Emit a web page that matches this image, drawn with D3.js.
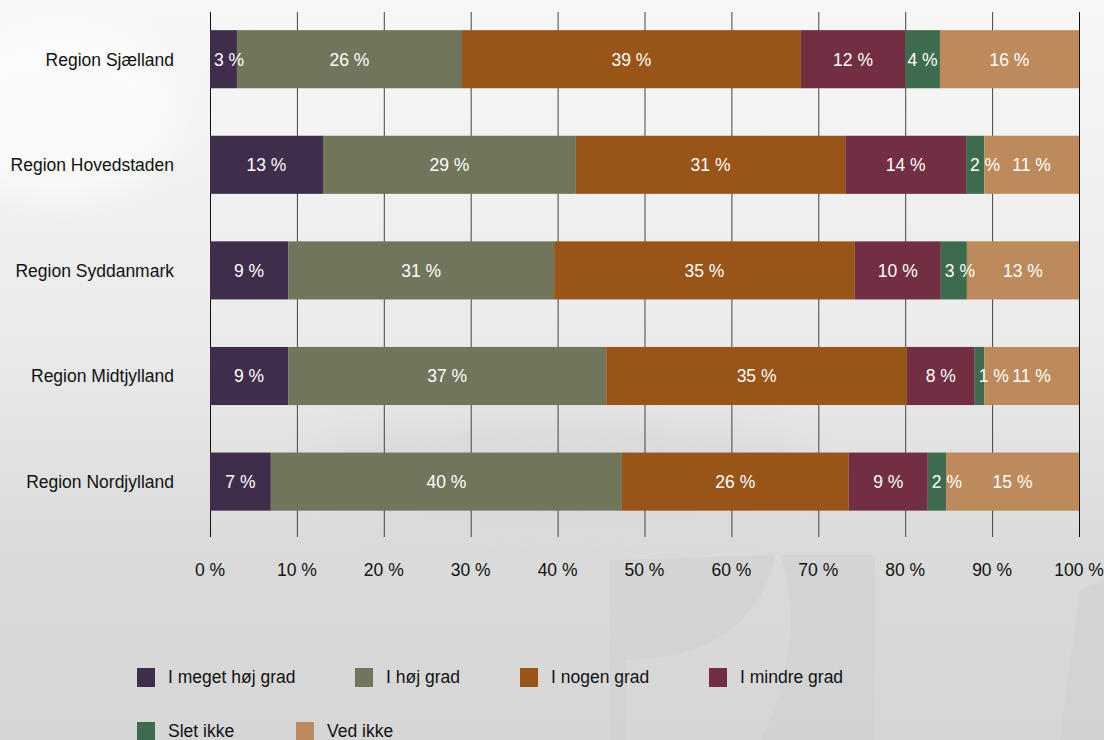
<!DOCTYPE html>
<html><head><meta charset="utf-8">
<script src="https://cdn.jsdelivr.net/npm/d3@7"></script>
<style>body{margin:0;padding:0;overflow:hidden;background:#e6e6e6}svg{display:block}</style>
</head><body>
<svg id="c" width="1104" height="740"></svg>
<script>
const regions = ["Region Sjælland","Region Hovedstaden","Region Syddanmark","Region Midtjylland","Region Nordjylland"];
const seriesNames = ["I meget høj grad","I høj grad","I nogen grad","I mindre grad","Slet ikke","Ved ikke"];
const colors = ["#3f2d4b","#70755c","#995517","#722e42","#3e6b4d","#bd8b5b"];
// values per region, in series order
const sjaelland    = [3.1, 25.9, 39.0, 12.0, 4.0, 16.0];
const hovedstaden  = [13.0, 29.1, 31.0, 13.9, 2.1, 10.9];
const syddanmark   = [9.0, 30.6, 34.6, 9.9, 3.0, 12.9];
const midtjylland  = [9.0, 36.6, 34.6, 7.8, 1.1, 10.9];
const nordjylland  = [7.0, 40.4, 26.1, 9.1, 2.1, 15.3];
const tickValues = [0,10,20,30,40,50,60,70,80,90,100];

const values = [sjaelland, hovedstaden, syddanmark, midtjylland, nordjylland];
const svg = d3.select("#c");
const font = "'Liberation Sans', Arial, sans-serif";
const fs = 17.5;

// background
const defs = svg.append("defs");
const g1 = defs.append("linearGradient").attr("id","bg").attr("x1",0).attr("y1",0).attr("x2",0).attr("y2",1);
g1.append("stop").attr("offset","0%").attr("stop-color","#f7f7f7");
g1.append("stop").attr("offset","45%").attr("stop-color","#ebebeb");
g1.append("stop").attr("offset","75%").attr("stop-color","#dadada");
g1.append("stop").attr("offset","100%").attr("stop-color","#d6d6d6");
svg.append("rect").attr("width",1104).attr("height",740).attr("fill","url(#bg)");
const blur = defs.append("filter").attr("id","bl").attr("x","-50%").attr("y","-50%").attr("width","200%").attr("height","200%");
blur.append("feGaussianBlur").attr("stdDeviation",18);
svg.append("ellipse").attr("cx",60).attr("cy",110).attr("rx",120).attr("ry",90).attr("fill","#ffffff").attr("opacity",0.6).attr("filter","url(#bl)");
svg.append("ellipse").attr("cx",560).attr("cy",470).attr("rx",260).attr("ry",50).attr("fill","#d2d2d2").attr("opacity",0.5).attr("filter","url(#bl)");
// faint large shape bottom right
svg.append("path").attr("d","M610,740 L610,560 L775,555 C760,630 700,660 625,660 L625,740 Z").attr("fill","#cfcfd1").attr("opacity",0.55);
svg.append("path").attr("d","M760,740 C790,690 800,600 780,555 L875,555 L875,740 Z").attr("fill","#cfcfd1").attr("opacity",0.55);
svg.append("path").attr("d","M1060,740 L1080,590 L1104,580 L1104,740 Z").attr("fill","#cfcfd1").attr("opacity",0.55);

const x = d3.scaleLinear().domain([0,100]).range([210,1079]);
const y = d3.scaleBand().domain(regions).range([6.4,534.4]).paddingInner(0.45).paddingOuter(0.225);

// gridlines
svg.append("g").selectAll("line").data(tickValues).join("line")
  .attr("x1",d=>x(d)+0.5).attr("x2",d=>x(d)+0.5).attr("y1",12).attr("y2",537)
  .attr("stroke",d=>(d===0||d===100)?"#111":"#444").attr("stroke-width",1);

// bars
regions.forEach((r,i)=>{
  let acc=0;
  const segs = values[i].map((v,k)=>{const s={k,v,x0:acc,x1:acc+v};acc+=v;return s;});
  const g = svg.append("g");
  g.selectAll("rect").data(segs).join("rect")
    .attr("x",d=>x(d.x0)).attr("width",d=>x(d.x1)-x(d.x0))
    .attr("y",y(r)).attr("height",y.bandwidth())
    .attr("fill",d=>colors[d.k]);
  g.selectAll("text").data(segs).join("text")
    .attr("x",d=>(x(d.x0)+x(d.x1))/2).attr("y",y(r)+y.bandwidth()/2)
    .attr("dy","0.36em").attr("text-anchor","middle")
    .attr("fill","#ffffff").attr("font-family",font).attr("font-size",fs)
    .text(d=>Math.round(d.v)+" %")
    .each(function(d){
      const w = this.getComputedTextLength();
      const sw = x(d.x1)-x(d.x0);
      if (w > sw) d3.select(this).attr("x", x(d.x0) + 4 + w/2);
    });
});

// category labels
svg.append("g").selectAll("text").data(regions).join("text")
  .attr("x",174).attr("y",d=>y(d)+y.bandwidth()/2).attr("dy","0.36em")
  .attr("text-anchor","end").attr("font-family",font).attr("font-size",fs).attr("fill","#111")
  .text(d=>d);

// x axis labels
svg.append("g").selectAll("text").data(tickValues).join("text")
  .attr("x",d=>x(d)).attr("y",576).attr("text-anchor","middle")
  .attr("font-family",font).attr("font-size",fs).attr("fill","#111")
  .text(d=>d+" %");

// legend
const legendPos = [[137,677],[355,677],[520,677],[709,677],[137,731],[296,731]];
const lg = svg.append("g").selectAll("g").data(seriesNames).join("g")
  .attr("transform",(d,i)=>`translate(${legendPos[i][0]},${legendPos[i][1]})`);
lg.append("rect").attr("x",0).attr("y",-9).attr("width",18).attr("height",19).attr("fill",(d,i)=>colors[i]);
lg.append("text").attr("x",31).attr("y",0).attr("dy","0.36em")
  .attr("font-family",font).attr("font-size",fs).attr("fill","#111").text(d=>d);
</script>
</body></html>
